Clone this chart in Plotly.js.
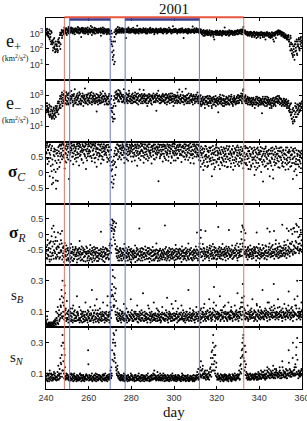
<!DOCTYPE html>
<html><head><meta charset="utf-8">
<script src="https://cdn.plot.ly/plotly-3.0.1.min.js"></script>
<style>html,body{margin:0;padding:0;background:#fff}#chart{width:307px;height:421px}</style>
</head><body><div id="chart"></div>
<script>
// Sampling: day-of-year 2001, days 240..359.75.
// Set A at 0, 6, 12, 18 h of each day; set B at 3, 9, 15, 21 h (4 samples/day each).
const startDay = 240, stepDay = 0.25;

const ePlus = [
1500,900,2000,700, 1200,600,1800,400, 900,300,1400,250, 200,80,400,120, 150,60,300,90,
200,100,60,400, 300,150,800,100, 800,1200,500,1500, 1300,900,1700,2000, 1600,1100,2200,800,
1800,1300,2100,1000, 1500,2000,1200,2400, 1700,1100,2200,1400, 1300,1900,900,1600, 2100,1500,1200,1800,
1400,2300,1000,1700, 1900,1300,600,2000, 1500,1100,2200,1300, 1800,1400,1000,2100, 1200,1700,2400,900,
1600,1300,1900,1100, 3000,1500,800,1700, 1400,1900,1200,2300, 1700,1000,1500,2000, 1300,1800,1100,1600,
1900,1400,2200,700, 1500,1200,1800,1000, 1700,2100,1300,1500, 1200,1600,900,1900, 1400,1000,1800,1300,
900,400,1500,200, 60,20,300,40, 1200,15,1700,900, 2000,1400,1600,1100, 1800,1300,2300,1500,
1500,1900,1100,1700, 2100,1400,1200,1800, 1600,1300,500,1900, 1700,1200,2000,1400, 1300,1800,1100,1600,
2000,1500,1300,1700, 1400,1100,1900,1200, 1800,1300,1600,3100, 1200,1700,1000,1500, 1600,2000,1300,1800,
1400,1100,1700,1300, 1900,1500,1200,2100, 1300,1600,1000,1800, 1700,1400,2000,1200, 1500,1100,1800,1400,
2000,1300,1600,900, 1400,1800,1200,1700, 1600,1000,1900,1300, 1200,1700,1500,2200, 1800,1300,1100,1600,
1500,2000,1300,1700, 1300,1600,1000,1900, 1700,1200,1500,1400, 1400,1900,1100,1600, 1600,1300,2900,1200,
1900,1500,1300,1700, 1300,1700,1000,1500, 1600,1200,1800,1400, 1400,2000,1200,1700, 1800,1500,500,1300,
1200,1600,1900,1400, 1700,1300,1000,1600, 1500,1900,1300,1100, 1400,1200,1700,2800, 1800,1500,1100,1600,
1300,1700,2200,1200, 1900,1500,1400,1800, 2000,1300,1600,1100, 1200,900,1500,700, 1000,1400,800,1100,
1300,900,1600,1000, 800,1200,1000,1500, 1100,700,1300,900, 1400,1000,600,1200, 900,1300,1100,800,
1200,1500,900,1000, 1000,800,1300,1400, 1300,1100,700,1200, 900,1400,1000,2400, 1100,800,1200,900,
1400,1000,1300,700, 800,1200,1000,1500, 1200,900,1400,1100, 1000,1300,800,1200, 1300,1100,1500,900,
900,1400,1200,1600, 1500,1000,1800,1200, 1700,1200,2600,1400, 1300,1600,1000,1200, 1100,800,1300,900,
1000,1200,700,1100, 900,1200,600,1000, 1100,800,1300,700, 700,1000,900,1200, 1000,600,1100,800,
800,1100,500,900, 1200,900,700,1000, 900,600,1100,800, 700,1000,800,1200, 1000,800,600,900,
800,500,900,700, 600,900,400,1000, 900,700,1200,500, 1300,1000,800,1500, 1600,1200,900,1400,
1000,700,1300,900, 800,600,1000,700, 600,900,500,700, 500,700,400,600, 300,150,80,500,
100,50,200,30, 60,150,20,300, 200,80,400,40, 300,150,500,100, 400,200,600,250
];
const ePlusB = [
1100,1700,800,1300, 700,1000,500,1500, 600,200,1100,350, 300,120,250,500, 100,200,70,180,
150,300,80,250, 500,250,1100,200, 1000,1700,700,1300, 1100,1500,2400,1000, 1400,1900,1000,1700,
1200,1600,2600,1400, 1800,1100,1500,2200, 1400,2000,1000,1600, 1700,1200,2100,1400, 1500,1900,1100,2600,
1800,1200,1600,2100, 1100,1700,1400,2300, 1900,1300,1600,1000, 1300,2200,1600,1200, 1900,1400,1100,1600,
1400,2100,1200,1700, 1300,1800,2500,1100, 1700,1300,1000,1600, 2100,1500,1800,1200, 1500,1100,2000,1400,
1300,1700,1100,2100, 1800,1400,2400,1200, 1400,1000,1600,1900, 1800,1300,1100,1600, 1200,1900,1500,1000,
1300,600,300,1000, 150,30,80,10, 600,300,1400,1000, 1500,1200,2600,1700, 1300,1900,1100,1600,
1800,1300,2200,1400, 1600,1100,1900,1300, 1400,2000,1200,1700, 1300,1600,2400,1100, 1900,1400,1700,1200,
1200,1800,1500,2300, 1700,1300,1600,1000, 1400,1900,1100,1500, 1800,1300,2000,1400, 1300,1700,1100,1500,
1700,1300,2200,1500, 1200,1800,1400,1000, 1600,1200,1900,1400, 1300,1700,1100,2300, 1800,1400,1600,1200,
1300,1900,1500,1100, 1700,1300,2100,1500, 1200,1500,1300,1800, 1900,1400,1200,1600, 1300,1800,1500,1000,
1700,1200,1600,2000, 1500,1800,1300,1100, 1300,1600,2300,1400, 1800,1300,1500,1000, 1400,1700,1200,1900,
1600,1200,2000,1400, 1800,1400,1200,1600, 1300,1900,1500,1100, 1700,1300,1600,2200, 1400,1100,1700,1300,
1600,1900,1300,1100, 1300,1500,2000,1200, 1700,1200,1600,1400, 1200,1800,1300,1600, 1500,1100,2100,1300,
1600,1200,1400,1900, 1300,1700,1100,1500, 1500,1100,1800,1300, 900,1300,1100,1700, 1200,700,1000,1500,
1000,1300,800,1200, 1300,1000,1600,800, 900,1200,1400,1000, 1100,800,1300,400, 1200,900,1500,1100,
1000,1300,800,1200, 1300,1000,1500,900, 800,1200,1000,1500, 1200,900,1300,1000, 1400,1100,800,1200,
900,1300,1100,1600, 1200,900,1300,1000, 1400,1100,800,1200, 1000,1300,1500,900, 1200,1000,1400,1700,
1300,1100,1500,1000, 1400,1700,1200,900, 1500,1900,1300,1100, 1100,1400,900,1300, 1000,1200,700,1000,
800,1100,900,1300, 1100,700,1000,800, 900,1200,600,1000, 1100,800,500,900, 800,1100,700,1000,
1000,700,1200,800, 800,1100,600,900, 1100,800,1000,400, 900,1200,700,1000, 700,900,1100,600,
1000,700,600,1200, 800,1100,700,300, 1100,800,1000,1300, 1100,1400,1200,900, 1300,1000,1500,1100,
1200,900,700,1100, 900,1100,700,500, 800,600,700,400, 600,400,800,300, 400,200,700,250,
200,80,40,150, 100,40,200,70, 120,300,50,150, 200,400,120,80, 300,500,150,350
];

const eMinus = [
200,80,300,150, 120,60,250,40, 90,50,180,30, 70,40,130,60, 100,50,200,80,
150,80,300,120, 300,150,600,250, 800,400,1500,200, 500,1200,300,900, 700,300,1600,450,
400,1000,250,600, 1500,500,300,800, 600,1100,350,200, 900,450,2500,300, 350,800,500,1300,
700,250,1000,400, 1200,500,300,800, 450,900,200,600, 800,2800,400,300, 300,700,1100,500,
600,350,900,1400, 1000,400,250,700, 500,1300,600,300, 900,400,700,90, 350,1100,500,800,
700,300,1500,450, 1200,600,350,900, 400,800,250,600, 1000,500,300,700, 600,250,900,400,
300,150,600,100, 40,150,30,500, 900,30,1500,600, 1800,700,1200,400, 500,1000,2000,700,
1300,600,900,350, 800,400,2500,600, 350,900,500,1200, 700,300,1000,450, 1300,600,400,800,
500,1100,300,700, 900,400,600,1500, 350,800,1200,500, 600,250,900,400, 1100,500,300,700,
400,900,600,2200, 800,350,1000,500, 300,600,200,900, 700,1200,400,500, 500,300,800,1000,
900,600,350,700, 400,1100,500,100, 1300,700,400,900, 600,300,800,500, 350,900,600,1200,
800,450,1000,300, 500,1200,700,350, 1000,400,600,800, 300,700,1300,500, 600,900,400,200,
1100,500,800,350, 450,800,300,1000, 700,350,2400,600, 900,500,400,700, 350,1000,600,250,
800,400,2600,500, 600,1100,300,700, 400,700,900,500, 1200,500,350,800, 500,900,600,300,
800,400,1100,600, 1500,700,400,900, 600,300,1000,200, 500,250,800,350, 300,600,150,450,
700,400,250,900, 350,200,600,450, 800,300,500,150, 400,700,250,550, 250,500,900,350,
600,300,450,80, 400,800,300,550, 700,250,500,1000, 300,600,200,450, 550,350,800,250,
400,700,300,900, 250,500,600,350, 800,400,250,600, 350,900,500,300, 600,300,800,450,
450,1000,350,700, 900,500,1300,400, 1200,600,2500,800, 700,400,1000,500, 500,300,800,600,
350,700,450,250, 600,300,450,200, 350,700,250,500, 500,250,800,350, 300,600,200,450,
700,350,500,250, 400,70,600,300, 250,500,350,800, 600,300,200,450, 350,700,500,250,
500,250,300,150, 300,600,200,400, 450,250,700,350, 800,400,600,300, 500,900,350,650,
300,550,200,400, 450,250,600,300, 300,500,200,350, 250,400,150,300, 150,80,250,50,
60,30,120,15, 40,100,20,200, 80,150,40,250, 120,60,200,100, 200,100,300,150
];
const eMinusB = [
300,120,200,90, 80,150,50,200, 60,120,40,100, 90,50,160,30, 70,140,40,110,
200,100,400,60, 400,200,900,150, 600,1100,300,700, 1000,400,2000,600, 500,900,250,1200,
700,300,1300,500, 350,900,600,1900, 800,450,1000,250, 1200,600,300,700, 500,1000,250,600,
900,400,1600,300, 600,250,900,450, 1300,700,350,1000, 500,300,600,1100, 900,450,250,1300,
450,700,300,1100, 600,1600,350,900, 800,400,1000,500, 300,600,1200,450, 700,250,900,400,
500,1000,300,700, 350,800,1800,500, 900,600,1300,400, 450,800,250,600, 800,400,1200,300,
500,250,900,150, 80,20,200,60, 300,700,200,1100, 600,1300,900,2200, 1200,400,800,1600,
600,1100,400,800, 1100,500,700,300, 900,1400,600,400, 500,1100,800,2000, 400,900,600,300,
800,450,1300,600, 350,700,1000,400, 900,500,300,700, 1300,800,450,2400, 500,900,600,1200,
700,300,1000,450, 1200,600,400,900, 500,1000,700,300, 400,800,1100,600, 900,450,250,700,
600,1300,400,900, 800,350,600,1000, 450,900,2000,600, 1000,500,300,700, 800,450,1100,400,
500,900,350,700, 1100,600,250,900, 700,400,1200,500, 900,500,800,350, 1300,600,400,800,
600,300,1000,700, 900,500,1500,400, 450,800,600,300, 1100,600,400,1700, 700,350,900,500,
500,900,700,300, 1000,400,600,1300, 700,300,500,1000, 400,900,600,250, 1100,500,800,400,
600,1100,400,800, 500,300,900,600, 800,400,250,600, 400,700,300,500, 550,250,800,350,
450,800,300,600, 650,300,900,400, 350,600,200,700, 500,250,800,350, 600,400,200,500,
350,700,250,500, 600,300,1100,400, 400,600,300,200, 500,900,400,300, 250,600,350,700,
600,300,500,250, 450,800,350,1100, 300,550,200,450, 700,400,600,250, 400,700,300,1000,
650,300,800,500, 500,900,700,300, 900,2000,500,700, 450,800,300,600, 400,650,250,500,
500,250,600,350, 400,700,250,550, 600,300,450,150, 350,600,250,800, 500,300,700,250,
450,250,600,300, 500,350,800,250, 400,600,200,350, 300,500,800,250, 550,300,400,150,
350,600,200,450, 500,300,700,250, 300,550,200,400, 600,350,900,450, 400,700,250,550,
600,300,450,250, 350,600,200,450, 400,250,550,150, 300,200,450,100, 200,120,80,300,
30,80,20,150, 100,25,60,300, 40,180,100,60, 250,150,80,300, 120,250,180,400
];

const sigmaC = [
.81,.62,.93,.28, .72,.47,.86,-.12, .58,.21,.79,-.38, .42,-.17,.68,.09, .53,.74,.02,-.52,
.31,.63,-.27,.82, .69,.18,.91,.52, .87,.57,.43,.96, .71,.89,.48,.13, .78,.61,.33,.92,
.56,.84,.67,-.21, .91,.64,.38,.79, .73,.51,.88,.27, .62,.86,.44,.71, .77,.36,.92,.59,
.49,.76,.23,.83, .89,.58,.71,.41, .66,.87,.32,.74, .82,.53,.93,.12, .69,.39,.61,.84,
.91,.73,.52,.67, .54,.81,.37,.88, .72,.92,.59,.46, .86,.48,.76,.19, .63,.79,.42,.91,
.74,.56,.84,.29, .92,.66,.51,.78, .41,.81,.69,.62, .84,.57,.89,.34, .71,.44,.82,.58,
.48,.22,.73,-.31, .11,-.48,.39,-.22, .28,.71,-.08,.57, .79,.61,.91,.43, .67,.86,.49,.76,
.88,.42,.72,.79, .57,.83,.64,.31, .76,.49,.92,.61, .84,.67,.38,.81, .59,.9,.71,.52,
.82,.36,.86,.63, .51,.77,.58,.91, .89,.54,.79,.22, .69,.87,.46,.61, .62,.41,.93,.74,
.86,.68,.54,.32, .49,.91,.66,.79, .76,.59,.87,.39, .92,.47,.71,.62, .64,.82,.29,.86,
.79,.56,.91,.69, .42,.76,.61,.49, .84,.64,.81,-.28, .71,.89,.52,.59, .57,.82,.74,.36,
.91,.61,.84,.46, .69,.41,.79,.66, .61,.86,.51,.9, .81,.68,.31,.76, .48,.91,.64,.61,
.84,.56,.79,.39, .71,.81,.62,.89, .46,.74,.86,.56, .9,.59,.34,.81, .66,.84,.69,.51,
.79,.42,.91,.58, .56,.76,.64,.86, .89,.49,.81,.31, .69,.84,.61,.46, .59,.29,.92,.76,
.86,.64,.51,.79, .74,.9,.56,.41, .49,.71,.19,.84, .61,.28,.79,.08, .39,.76,.21,.56,
.84,.51,.34,.69, .22,.66,.81,.44, .71,.38,.59,-.12, .49,.86,.29,.64, .76,.18,.56,.89,
.36,.71,.44,.61, .79,.49,.12,.66, .59,.31,.74,.46, .41,.81,.54,.21, .69,.61,.34,.86,
.51,.19,.76,.59, .84,.46,.64,.29, .61,.74,.41,.09, .31,.66,.79,.49, .71,.44,.56,.88,
.54,.81,.21,.66, .74,.36,.59,.44, .39,.71,.14,.84, .64,.51,.79,.31, .81,.24,.54,.69,
.46,.69,.61,.11, .59,.19,.79,.41, .29,.71,.49,-.08, .74,.39,.09,.61, .49,.81,.31,.64,
.21,.59,.71,.44, .69,.34,.56,-.29, .41,.76,.19,.61, .84,.49,.66,.29, .12,.54,.74,.39,
.61,.31,.79,.49, .44,.71,-.19,.59, .76,.24,.51,.84, .29,.61,.39,.71, .54,.79,.16,.49,
.69,.41,.64,.21, .34,.74,.49,.61, .59,.09,.81,.44, .39,.66,.31,.69, .74,.49,.19,.56,
.21,.59,.71,-.21, .49,.31,.64,.79, .11,.44,-.09,.61, .59,.26,.69,.41, .36,.54,.14,.71
];
const sigmaCB = [
.66,.88,.44,.74, .83,.36,.63,.91, .47,.72,.04,.86, .26,-.33,.57,.78, .68,.38,-.26,.61,
.72,.12,.54,.41, .86,.62,.33,.77, .64,.91,.78,.52, .92,.58,.81,.37, .63,.86,.74,.49,
.79,.42,.92,.65, .58,.82,.71,.94, .87,.64,.52,.78, .91,.69,.83,.57, .48,.84,.66,.94,
.86,.61,.93,.54, .67,.82,.44,.76, .92,.71,.84,.61, .58,.86,.74,.47, .91,.77,.53,.68,
.62,.86,.69,.94, .83,.47,.92,.71, .56,.78,.88,.33, .93,.68,.81,.57, .76,.91,.64,.52,
.61,.89,.72,.54, .78,.43,.84,.69, .92,.58,.76,.87, .64,.81,.49,.73, .9,.67,.38,.83,
.72,.51,.06,.34, -.12,.24,-.36,.52, .62,.34,.81,.17, .56,.91,.74,.68, .88,.53,.79,.62,
.64,.81,.57,.92, .86,.71,.48,.78, .62,.88,.74,.43, .91,.56,.76,.69, .81,.63,.87,.77,
.68,.91,.74,.52, .86,.64,.39,.81, .71,.84,.63,.92, .57,.79,.88,.66, .83,.69,.54,.88,
.71,.92,.63,.82, .77,.58,.91,.44, .68,.84,.53,.73, .81,.67,.92,.56, .72,.51,.86,.74,
.67,.87,.44,.79, .91,.63,.82,.71, .58,.76,.92,.64, .83,.46,.74,.9, .68,.89,.61,.84,
.74,.52,.89,.79, .86,.64,.57,.92, .73,.38,.81,.69, .62,.88,.76,.53, .84,.71,.93,.39,
.69,.92,.63,.77, .58,.86,.47,.73, .82,.68,.91,.61, .74,.83,.56,.69, .87,.52,.79,.92,
.63,.84,.72,.51, .88,.66,.41,.79, .72,.62,.94,.57, .83,.56,.74,.91, .71,.85,.52,.66,
.69,.82,.91,.58, .64,.53,.86,.71, .79,.38,.64,.56, .74,.49,.63,.33, .68,.52,.86,.44,
.58,.76,.18,.49, .71,.54,.36,.79, .46,.82,.27,.63, .72,.41,.59,.11, .41,.68,.81,.33,
.81,.56,.66,.24, .43,.72,.61,.34, .83,.49,.24,.69, .63,.36,.76,.58, .44,.79,.52,.17,
.72,.43,.61,.84, .38,.69,.18,.57, .76,.51,.86,.66, .61,.41,.21,.74, .36,.82,.64,.27,
.72,.34,.61,.47, .56,.83,.29,.69, .77,.54,.61,.32, .42,.86,.27,.58, .61,.44,.79,.12,
.71,.34,.83,.54, .24,.76,.49,.66, .61,.43,.81,.19, .53,.66,.32,.77, .16,.58,.72,.44,
.66,.41,.83,.02, .51,.79,.26,.61, .68,.36,.54,.79, .22,.69,.44,.59, .71,.29,.61,-.12,
.36,.71,.22,.62, .81,.09,.57,.34, .42,.66,.31,.58, .79,.46,.61,.17, .36,.69,.52,.81,
.49,.81,.29,.56, .71,.19,.62,.43, .31,.72,.56,.26, .81,.49,.11,.63, .34,.68,.42,.81,
.56,.31,.44,.76, .69,.04,.52,.27, .36,.72,.27,.54, .41,.71,.19,.56, .66,.29,.61,.46
];

const sigmaR = [
-.62,-.41,-.79,-.18, -.52,-.71,-.29,-.88, -.58,-.22,-.81,.19, -.39,-.68,.28,-.51, -.31,-.61,-.09,-.79,
-.48,-.21,-.72,-.39, -.42,-.79,-.59,.02, -.19,-.52,.11,-.69, -.61,-.38,-.89,-.28, -.49,-.71,-.36,-.84,
-.66,-.44,-.81,-.54, -.51,-.89,-.61,-.31, -.74,-.56,-.41,-.86, -.59,-.79,-.49,-.71, -.46,-.64,-.91,-.53,
-.69,-.48,-.62,-.21, -.56,-.84,-.66,-.39, -.81,-.59,-.51,-.74, -.49,-.71,-.88,-.61, -.64,-.44,-.76,-.54,
-.61,-.84,-.49,-.34, -.76,-.54,-.66,-.89, -.51,-.69,-.41,-.59, -.79,-.61,-.56,-.71, -.44,-.74,-.86,-.62,
-.64,-.51,-.69,.09, -.56,-.81,-.59,-.41, -.71,-.49,-.89,-.66, -.59,-.76,-.46,-.54, -.51,-.66,-.79,-.36,
-.29,.31,-.59,.11, .48,.19,.36,.01, .41,-.19,.24,-.49, -.61,-.39,-.76,-.51, -.69,-.56,-.84,-.44,
-.51,-.79,-.61,-.69, -.66,-.46,-.74,-.31, -.54,-.86,-.59,-.71, -.74,-.49,-.66,-.41, -.59,-.81,-.51,-.89,
-.46,-.69,-.61,-.54, -.79,-.56,-.74,-.36, -.61,-.71,-.44,-.84, -.49,-.66,-.81,.19, -.69,-.46,-.59,-.76,
-.56,-.84,-.64,-.49, -.74,-.61,-.39,-.69, -.51,-.79,-.59,-.56, -.64,-.44,-.89,-.61, -.79,-.59,-.51,-.71,
-.41,-.69,-.66,-.84, -.61,-.54,-.74,-.29, -.76,-.51,-.59,-.79, -.54,-.84,-.46,-.64, -.71,-.59,-.81,-.49,
-.51,-.74,-.61,.29, -.64,-.41,-.84,-.56, -.79,-.61,-.69,-.44, -.56,-.74,-.49,-.66, -.69,-.46,-.79,-.59,
-.59,-.84,-.56,-.34, -.46,-.71,-.64,-.74, -.76,-.54,-.61,-.79, -.49,-.66,-.89,-.39, -.71,-.51,-.59,-.76,
-.61,-.79,-.44,-.56, -.54,-.71,-.74,-.29, -.81,-.49,-.61,-.64, -.44,-.76,-.56,-.84, -.66,-.59,-.79,-.51,
-.69,-.39,-.61,.06, -.51,-.84,-.64,-.56, -.29,-.59,-.11,-.74, -.49,-.71,-.31,-.61, -.64,-.46,-.79,.11,
-.56,-.74,-.41,-.59, -.69,-.51,-.84,-.36, -.46,-.64,-.61,-.79, -.59,-.31,-.74,-.49, -.76,-.54,-.44,-.66,
-.51,-.79,-.59,.24, -.64,-.41,-.71,-.56, -.79,-.61,-.49,-.31, -.56,-.69,-.64,-.44, -.61,-.84,-.39,-.71,
-.69,-.51,-.61,.14, -.46,-.74,-.54,-.66, -.59,-.36,-.79,-.51, -.74,-.61,-.44,-.69, -.49,-.66,-.29,-.84,
-.61,-.41,-.69,-.54, -.31,-.71,.09,-.49, .29,-.39,.21,-.61, -.19,-.64,.04,-.51, -.69,-.49,-.81,-.41,
-.54,-.74,-.61,-.36, -.64,-.51,-.79,-.46, -.59,-.76,-.41,-.54, -.49,-.71,-.84,.06, -.69,-.44,-.61,-.31,
-.56,-.79,-.49,-.64, -.74,-.61,-.34,-.69, -.44,-.66,-.76,-.54, -.59,-.39,-.81,.19, -.71,-.56,-.49,-.29,
-.51,-.74,-.64,-.39, -.61,-.34,-.69,-.56, -.79,-.49,-.46,-.19, -.54,-.71,-.59,-.41, -.66,-.29,-.74,-.51,
-.39,-.61,-.54,.31, -.69,-.44,-.59,-.24, -.49,-.66,-.34,-.76, -.61,-.19,-.51,.11, -.44,-.71,-.29,-.56,
-.31,-.54,.01,-.66, -.49,.21,-.39,-.61, -.21,.34,-.46,.09, -.41,-.09,.24,-.54, -.29,-.51,.06,-.19
];
const sigmaRB = [
-.54,-.76,-.34,-.66, -.69,-.44,-.81,-.26, -.46,-.71,-.06,-.62, -.59,-.24,-.79,.08, -.56,-.21,-.74,-.44,
-.66,-.39,.06,-.59, -.59,-.32,-.74,-.51, -.56,-.29,-.81,-.42, -.44,-.74,-.54,-.66, -.71,-.56,-.81,-.46,
-.51,-.76,-.61,-.86, -.69,-.44,-.79,-.56, -.61,-.84,-.49,-.66, -.79,-.53,-.66,-.41, -.71,-.59,-.81,-.49,
-.58,-.79,-.44,-.66, -.74,-.49,-.61,-.81, -.64,-.44,-.86,-.56, -.71,-.56,-.61,-.39, -.56,-.84,-.61,-.71,
-.71,-.56,-.79,-.61, -.64,-.81,-.44,-.59, -.76,-.56,-.84,-.49, -.66,-.44,-.74,-.86, -.59,-.69,-.51,-.79,
-.79,-.61,-.46,-.71, -.66,-.49,-.74,-.86, -.56,-.71,-.61,-.44, -.79,-.49,-.66,-.74, -.64,-.81,-.54,-.61,
-.44,-.16,.21,-.36, .29,.44,-.09,.16, .11,-.31,-.46,.36, -.71,-.51,-.61,-.84, -.56,-.74,-.46,-.66,
-.71,-.56,-.84,-.46, -.59,-.79,-.51,-.66, -.69,-.44,-.76,-.61, -.54,-.84,-.61,-.71, -.76,-.49,-.66,-.56,
-.81,-.56,-.74,-.64, -.51,-.69,-.61,-.89, -.74,-.54,-.66,-.49, -.61,-.79,-.56,-.71, -.54,-.84,-.66,-.44,
-.69,-.46,-.74,-.61, -.59,-.81,-.66,-.51, -.71,-.59,-.44,-.79, -.54,-.76,-.66,-.49, -.61,-.71,-.84,-.56,
-.56,-.81,-.51,-.66, -.79,-.64,-.49,-.71, -.61,-.86,-.66,-.54, -.74,-.51,-.69,-.79, -.54,-.74,-.61,-.66,
-.69,-.56,-.81,-.46, -.76,-.59,-.66,-.71, -.51,-.74,-.56,-.84, -.66,-.49,-.79,-.61, -.56,-.74,-.64,-.51,
-.74,-.51,-.69,-.81, -.64,-.56,-.79,-.49, -.59,-.71,-.46,-.66, -.76,-.54,-.61,-.71, -.56,-.81,-.69,-.49,
-.71,-.59,-.66,-.84, -.61,-.49,-.79,-.56, -.69,-.64,-.51,-.76, -.59,-.81,-.66,-.54, -.74,-.49,-.61,-.71,
-.56,-.76,-.49,-.66, -.79,-.59,-.71,-.41, -.66,-.46,.14,-.56, -.71,-.56,-.84,-.44, -.54,-.71,-.59,-.66,
-.66,-.49,-.71,-.56, -.59,-.76,-.44,-.64, -.71,-.54,-.39,-.69, -.51,-.66,-.79,-.41, -.59,-.69,-.56,-.81,
-.66,-.54,-.71,-.46, -.56,-.76,-.51,-.66, -.44,-.69,-.59,-.81, -.66,-.49,-.56,-.74, -.51,-.66,-.59,-.46,
-.56,-.79,-.41,-.64, -.69,-.54,-.71,-.49, -.66,-.79,-.56,-.61, -.51,-.69,-.59,-.36, -.69,-.54,-.76,-.61,
-.51,-.74,-.59,-.66, -.49,-.56,-.16,-.69, -.29,.24,-.49,.14, -.56,-.41,-.61,-.74, -.56,-.64,-.44,-.69,
-.66,-.49,-.71,-.59, -.49,-.71,-.56,-.64, -.69,-.51,-.61,-.44, -.61,-.56,-.41,-.71, -.59,-.76,-.51,-.66,
-.66,-.44,-.71,-.59, -.51,-.69,-.61,-.46, -.61,-.79,-.56,-.36, -.69,-.51,-.61,-.71, -.59,-.41,-.66,.09,
-.61,-.44,-.71,-.56, -.71,-.49,-.59,.11, -.59,-.66,-.31,-.71, -.64,-.44,-.49,-.76, -.56,-.61,-.39,-.69,
-.56,-.71,-.44,-.64, -.51,-.61,-.36,-.71, -.61,-.44,-.54,.19, -.51,-.66,-.39,-.56, -.61,-.29,-.49,.16,
-.51,-.24,-.61,.19, -.36,-.56,.09,-.44, -.59,-.26,.29,-.46, -.51,-.31,-.61,-.06, -.46,.14,-.36,-.56
];

const sB = [
.04,.02,.07,.01, .02,.03,.01,.02, .01,.02,.03,.01, .02,.03,.01,.04, .03,.05,.02,.1,
.06,.03,.13,.02, .08,.04,.18,.06, .13,.24,.07,.3, .1,.19,.05,.27, .08,.12,.04,.17,
.06,.1,.03,.08, .07,.04,.12,.09, .05,.09,.03,.14, .08,.04,.11,.06, .04,.07,.2,.1,
.09,.05,.06,.03, .06,.11,.04,.08, .03,.07,.1,.05, .08,.04,.16,.06, .05,.09,.03,.07,
.1,.06,.04,.13, .04,.08,.24,.06, .07,.03,.09,.05, .05,.11,.06,.18, .09,.04,.07,.03,
.06,.12,.05,.08, .04,.07,.1,.16, .08,.05,.03,.09, .06,.1,.04,.14, .05,.08,.07,.03,
.1,.16,.06,.24, .28,.37,.2,.13, .18,.32,.1,.25, .08,.05,.12,.07, .04,.09,.06,.11,
.07,.03,.1,.05, .09,.06,.15,.04, .05,.08,.07,.12, .03,.06,.1,.04, .08,.05,.07,.18,
.06,.11,.04,.08, .04,.07,.09,.05, .1,.05,.06,.14, .07,.03,.08,.05, .05,.09,.04,.11,
.08,.06,.22,.04, .04,.1,.07,.06, .09,.05,.03,.08, .06,.12,.05,.07, .03,.07,.1,.04,
.08,.05,.16,.06, .05,.09,.04,.07, .07,.04,.11,.08, .1,.06,.05,.03, .04,.08,.13,.06,
.06,.05,.09,.04, .08,.11,.07,.19, .05,.03,.06,.1, .07,.09,.04,.08, .04,.06,.12,.05,
.09,.05,.07,.17, .06,.1,.03,.08, .04,.07,.09,.05, .08,.05,.14,.06, .05,.11,.04,.07,
.07,.03,.08,.1, .1,.06,.05,.24, .04,.08,.12,.06, .06,.04,.07,.09, .08,.1,.05,.03,
.05,.07,.13,.08, .07,.04,.1,.06, .09,.05,.03,.12, .06,.1,.08,.04, .08,.15,.05,.07,
.04,.09,.06,.11, .07,.05,.18,.08, .1,.06,.04,.09, .05,.12,.08,.26, .08,.04,.07,.14,
.06,.1,.05,.08, .09,.07,.2,.04, .05,.08,.11,.06, .07,.13,.04,.09, .1,.06,.08,.05,
.04,.09,.16,.07, .08,.05,.06,.11, .06,.1,.04,.08, .09,.07,.14,.05, .05,.11,.08,.22,
.07,.04,.1,.06, .1,.08,.16,.05, .13,.28,.08,.2, .07,.11,.05,.09, .09,.06,.14,.04,
.05,.08,.07,.11, .08,.12,.06,.18, .06,.09,.04,.1, .1,.05,.08,.15, .04,.07,.11,.06,
.08,.13,.05,.09, .06,.1,.24,.07, .09,.05,.08,.12, .07,.11,.06,.04, .1,.08,.16,.05,
.05,.09,.07,.13, .08,.06,.11,.28, .07,.12,.05,.09, .1,.06,.08,.18, .05,.09,.13,.07,
.08,.11,.06,.04, .06,.1,.08,.15, .09,.05,.12,.07, .07,.1,.06,.23, .11,.08,.05,.09,
.06,.13,.08,.04, .1,.07,.18,.09, .08,.14,.05,.3, .07,.1,.06,.12, .09,.05,.08,.16
];
const sBB = [
.03,.015,.05,.02, .015,.025,.01,.03, .02,.01,.015,.025, .015,.02,.035,.01, .025,.04,.015,.06,
.045,.09,.025,.07, .11,.05,.08,.14, .09,.2,.06,.16, .07,.14,.1,.22, .11,.06,.09,.05,
.085,.05,.11,.065, .055,.1,.075,.04, .065,.12,.045,.085, .1,.055,.075,.04, .06,.095,.045,.08,
.075,.045,.13,.055, .045,.085,.065,.1, .09,.055,.035,.075, .065,.1,.045,.08, .08,.045,.11,.06,
.055,.085,.075,.045, .09,.055,.065,.11, .045,.075,.095,.14, .065,.035,.085,.055, .075,.11,.05,.085,
.085,.045,.095,.065, .055,.085,.045,.075, .07,.095,.06,.045, .085,.055,.075,.2, .065,.095,.045,.08,
.085,.13,.2,.11, .21,.33,.14,.26, .14,.22,.08,.17, .06,.095,.04,.085, .085,.055,.075,.045,
.055,.085,.065,.1, .075,.045,.055,.085, .09,.055,.045,.075, .065,.095,.055,.045, .045,.075,.095,.065,
.085,.055,.075,.045, .065,.1,.055,.085, .055,.075,.085,.035, .085,.055,.065,.1, .075,.045,.06,.085,
.055,.095,.045,.075, .075,.055,.085,.045, .065,.085,.055,.14, .055,.075,.095,.045, .085,.055,.065,.075,
.065,.085,.045,.075, .085,.055,.075,.12, .055,.085,.065,.045, .075,.045,.085,.065, .065,.095,.055,.085,
.085,.045,.075,.055, .055,.075,.095,.045, .065,.085,.055,.075, .085,.055,.065,.15, .065,.085,.045,.075,
.045,.075,.055,.085, .085,.055,.065,.12, .065,.045,.085,.055, .055,.095,.065,.075, .085,.055,.095,.045,
.055,.085,.065,.045, .075,.055,.085,.065, .065,.095,.045,.075, .085,.065,.055,.11, .075,.045,.085,.065,
.065,.095,.055,.085, .085,.055,.065,.045, .075,.11,.065,.055, .085,.065,.095,.125, .065,.085,.055,.1,
.085,.065,.105,.055, .065,.095,.075,.12, .075,.055,.085,.065, .095,.075,.16,.11, .065,.1,.055,.085,
.085,.065,.095,.055, .065,.085,.075,.11, .075,.095,.065,.055, .095,.065,.085,.14, .065,.085,.055,.095,
.085,.065,.095,.055, .065,.1,.075,.13, .095,.055,.085,.065, .065,.085,.075,.1, .085,.065,.095,.055,
.075,.095,.065,.12, .085,.13,.075,.19, .1,.16,.085,.12, .075,.055,.095,.065, .065,.085,.055,.1,
.085,.065,.095,.055, .065,.1,.075,.085, .085,.065,.11,.055, .065,.095,.075,.14, .085,.065,.1,.055,
.075,.095,.065,.11, .085,.065,.095,.055, .065,.105,.075,.085, .095,.065,.085,.16, .075,.095,.065,.12,
.085,.11,.065,.095, .075,.095,.065,.14, .095,.065,.085,.075, .075,.095,.125,.065, .085,.065,.1,.075,
.075,.095,.065,.12, .095,.075,.085,.065, .065,.095,.075,.11, .085,.065,.14,.095, .075,.095,.065,.12,
.095,.075,.11,.065, .075,.095,.085,.14, .085,.12,.075,.2, .095,.075,.085,.065, .075,.095,.065,.11
];

const sN = [
.08,.06,.1,.05, .07,.09,.05,.12, .06,.08,.1,.07, .09,.06,.07,.11, .07,.1,.06,.08,
.08,.06,.09,.15, .06,.09,.07,.2, .1,.28,.08,.35, .12,.3,.07,.22, .08,.06,.1,.07,
.07,.09,.06,.08, .06,.08,.07,.1, .09,.06,.08,.05, .07,.1,.06,.08, .08,.05,.09,.07,
.06,.08,.07,.06, .1,.07,.05,.09, .07,.06,.09,.08, .05,.08,.07,.06, .09,.06,.08,.25,
.07,.09,.06,.08, .06,.07,.1,.05, .08,.06,.07,.09, .07,.1,.05,.08, .06,.08,.09,.07,
.09,.07,.06,.08, .08,.05,.09,.07, .06,.09,.07,.1, .07,.06,.08,.05, .09,.08,.06,.07,
.08,.12,.07,.1, .25,.4,.32,.18, .35,.2,.28,.14, .12,.09,.15,.08, .07,.1,.06,.09,
.08,.06,.09,.07, .06,.08,.1,.05, .09,.07,.06,.08, .07,.05,.09,.06, .08,.07,.06,.1,
.06,.09,.08,.07, .07,.06,.05,.09, .09,.08,.07,.06, .06,.07,.1,.08, .08,.05,.07,.09,
.07,.09,.06,.08, .05,.07,.08,.06, .09,.06,.07,.1, .07,.08,.05,.06, .08,.06,.09,.07,
.06,.1,.07,.12, .09,.07,.08,.06, .07,.11,.06,.09, .08,.06,.1,.07, .06,.09,.07,.08,
.1,.07,.05,.09, .07,.08,.06,.07, .09,.06,.08,.05, .06,.07,.09,.08, .08,.1,.06,.07,
.07,.06,.08,.09, .05,.08,.07,.06, .09,.07,.06,.08, .07,.05,.08,.1, .06,.09,.07,.06,
.08,.06,.05,.07, .07,.08,.09,.06, .05,.07,.06,.08, .08,.06,.07,.05, .06,.09,.05,.07,
.07,.06,.08,.09, .09,.07,.06,.08, .1,.14,.08,.12, .12,.09,.15,.07, .08,.11,.07,.1,
.06,.09,.12,.08, .07,.1,.06,.09, .09,.2,.08,.16, .25,.3,.12,.22, .18,.1,.28,.14,
.08,.06,.1,.07, .06,.08,.07,.05, .07,.09,.06,.08, .09,.05,.08,.06, .06,.07,.09,.08,
.08,.06,.05,.07, .07,.09,.08,.06, .05,.07,.06,.09, .08,.06,.1,.07, .06,.09,.07,.08,
.09,.07,.12,.06, .15,.2,.1,.25, .3,.22,.35,.18, .12,.28,.09,.16, .07,.1,.06,.09,
.08,.06,.07,.1, .06,.09,.08,.07, .09,.07,.06,.08, .07,.1,.08,.06, .08,.06,.11,.07,
.1,.08,.07,.12, .07,.11,.09,.08, .09,.07,.12,.06, .08,.1,.07,.14, .11,.08,.13,.09,
.07,.12,.09,.1, .1,.08,.15,.07, .09,.13,.07,.11, .12,.09,.1,.08, .08,.11,.14,.07,
.1,.07,.09,.18, .09,.12,.08,.1, .11,.08,.13,.07, .07,.1,.09,.25, .1,.13,.08,.11,
.08,.11,.1,.3, .12,.09,.14,.1, .09,.22,.11,.33, .1,.07,.12,.09, .08,.11,.09,.13
];
const sNB = [
.065,.085,.055,.095, .085,.065,.1,.075, .075,.095,.055,.085, .055,.075,.095,.065, .085,.065,.075,.055,
.075,.11,.065,.085, .1,.13,.08,.17, .16,.22,.12,.3, .18,.1,.26,.14, .065,.085,.075,.095,
.085,.065,.075,.055, .075,.095,.055,.065, .065,.075,.095,.085, .055,.085,.075,.065, .075,.065,.055,.085,
.085,.055,.075,.095, .065,.085,.075,.055, .085,.075,.055,.065, .075,.065,.085,.095, .065,.085,.075,.16,
.055,.075,.085,.065, .085,.065,.055,.075, .075,.085,.065,.055, .085,.065,.075,.095, .075,.055,.065,.085,
.065,.085,.075,.055, .075,.065,.085,.095, .085,.055,.065,.075, .055,.085,.075,.065, .075,.065,.095,.085,
.095,.075,.14,.085, .19,.3,.36,.23, .22,.3,.17,.38, .1,.13,.085,.11, .085,.065,.075,.055,
.065,.085,.075,.055, .085,.065,.055,.075, .075,.055,.085,.065, .065,.085,.075,.055, .055,.075,.065,.085,
.085,.065,.055,.075, .065,.085,.075,.055, .075,.055,.065,.085, .085,.065,.055,.075, .065,.075,.085,.055,
.055,.075,.085,.065, .085,.065,.075,.055, .065,.085,.055,.075, .075,.055,.065,.085, .055,.075,.085,.065,
.085,.065,.095,.075, .065,.085,.055,.075, .085,.065,.075,.055, .065,.075,.085,.055, .075,.065,.055,.085,
.065,.085,.075,.055, .085,.055,.065,.075, .055,.075,.085,.065, .075,.065,.055,.085, .065,.075,.085,.055,
.085,.055,.075,.065, .065,.075,.055,.085, .075,.085,.065,.055, .055,.065,.075,.085, .075,.055,.065,.085,
.065,.085,.075,.055, .085,.065,.055,.075, .075,.055,.085,.065, .065,.075,.085,.055, .075,.065,.055,.085,
.085,.065,.075,.11, .075,.13,.095,.065, .12,.09,.18,.075, .085,.13,.1,.095, .095,.075,.12,.085,
.085,.075,.095,.065, .075,.11,.085,.13, .14,.11,.24,.12, .2,.35,.16,.27, .12,.22,.085,.17,
.075,.095,.065,.085, .085,.065,.075,.095, .065,.085,.075,.055, .075,.065,.085,.095, .085,.075,.065,.055,
.065,.085,.075,.095, .085,.065,.055,.075, .075,.095,.085,.065, .065,.075,.085,.055, .085,.065,.075,.095,
.075,.085,.095,.065, .11,.16,.13,.21, .26,.33,.2,.28, .18,.14,.24,.11, .085,.075,.095,.065,
.075,.095,.065,.085, .085,.065,.075,.095, .075,.085,.065,.095, .085,.075,.095,.065, .075,.095,.085,.065,
.085,.095,.075,.065, .095,.085,.075,.11, .075,.095,.085,.065, .095,.075,.12,.085, .085,.105,.075,.095,
.095,.085,.11,.075, .085,.12,.095,.075, .105,.085,.095,.13, .085,.105,.075,.095, .095,.085,.12,.105,
.085,.105,.075,.14, .095,.085,.11,.075, .105,.095,.085,.12, .095,.12,.085,.17, .105,.085,.12,.095,
.11,.095,.2,.085, .1,.125,.085,.16, .14,.27,.095,.19, .095,.115,.085,.105, .1,.085,.12,.095
];

// interval boundaries (day of year)
const redLines = [248.6, 332.7];
const blueLines = [251.1, 270.1, 277.1, 311.9];
const blueBars = [[251.1, 270.1], [277.1, 311.9]];

const xTicks = [240, 260, 280, 300, 320, 340, 360];
const logTicks = [10, 100, 1000];
const logTickText = ['10<sup>1</sup>', '10<sup>2</sup>', '10<sup>3</sup>'];
const sigmaTicks = [-0.5, 0, 0.5];
const sigmaTickText = ['-0.5', '0', '0.5'];
const sTicks = [0.1, 0.3];
const sTickText = ['0.1', '0.3'];

const panelLabels = [
  {text: 'e<sub>+</sub>', size: 18, unit: true},
  {text: 'e<sub>−</sub>', size: 18, unit: true},
  {text: '<b>σ</b><sub><i>C</i></sub>', size: 17},
  {text: '<b>σ</b><sub><i>R</i></sub>', size: 17},
  {text: 's<sub><i>B</i></sub>', size: 15},
  {text: 's<sub><i>N</i></sub>', size: 15}
];

const seriesA = [ePlus, eMinus, sigmaC, sigmaR, sB, sN];
const seriesB = [ePlusB, eMinusB, sigmaCB, sigmaRB, sBB, sNB];
const timesA = a => a.map((_, i) => startDay + i * stepDay);
const timesB = a => a.map((_, i) => startDay + stepDay / 2 + i * stepDay);

const yCfg = [
  {type: 'log', range: [0, 4], tickvals: logTicks, ticktext: logTickText},
  {type: 'log', range: [0, 4], tickvals: logTicks, ticktext: logTickText},
  {range: [-1, 1], tickvals: sigmaTicks, ticktext: sigmaTickText},
  {range: [-1, 1], tickvals: sigmaTicks, ticktext: sigmaTickText},
  {range: [0, 0.4], tickvals: sTicks, ticktext: sTickText},
  {range: [0, 0.4], tickvals: sTicks, ticktext: sTickText}
];

const sans = 'Liberation Sans, Arial, sans-serif';
const serif = 'Liberation Serif, Times New Roman, serif';
const common = {
  showline: true, linecolor: '#000', linewidth: 1, mirror: 'ticks',
  ticks: 'inside', ticklen: 3, tickcolor: '#000', tickwidth: 1,
  showgrid: false, zeroline: false,
  tickfont: {family: sans, size: 9, color: '#333'}
};

const traces = seriesA.map((a, k) => {
  const b = seriesB[k];
  return {
    type: 'scatter', mode: 'markers',
    x: timesA(a).concat(timesB(b)), y: a.concat(b),
    xaxis: k ? 'x' + (k + 1) : 'x', yaxis: k ? 'y' + (k + 1) : 'y',
    marker: {size: 2, color: '#000'}, hoverinfo: 'skip', showlegend: false
  };
});

const layout = {
  width: 307, height: 421,
  margin: {l: 46, r: 5, t: 18, b: 32},
  paper_bgcolor: '#fff', plot_bgcolor: '#fff', showlegend: false,
  title: {text: '2001', font: {family: serif, size: 15, color: '#111'},
          x: 0.5, xref: 'paper', xanchor: 'center', y: 1 - 8.5 / 421, yref: 'container', yanchor: 'middle'},
  shapes: [], annotations: []
};

for (let k = 0; k < 6; k++) {
  const n = k ? String(k + 1) : '';
  layout['xaxis' + n] = Object.assign({}, common, {
    range: [240, 360], tickvals: xTicks, ticktext: xTicks.map(String),
    anchor: 'y' + n, showticklabels: k === 5, ticklabeloverflow: 'allow'
  });
  layout['yaxis' + n] = Object.assign({}, common, yCfg[k], {
    domain: [(5 - k) / 6, (6 - k) / 6], anchor: 'x' + n
  });
  const lab = panelLabels[k];
  layout.annotations.push({
    text: lab.text, xref: 'paper', x: 0, xshift: lab.unit ? -33 : -29,
    yref: 'y' + n + ' domain', y: lab.unit ? 0.6 : 0.5, yanchor: 'middle', xanchor: 'center',
    showarrow: false, font: {family: serif, size: lab.size, color: '#111'}
  });
  if (lab.unit) {
    layout.annotations.push({
      text: '(km<sup>2</sup>/s<sup>2</sup>)', xref: 'paper', x: 0, xshift: -31,
      yref: 'y' + n + ' domain', y: 0.35, yanchor: 'middle', xanchor: 'center',
      showarrow: false, font: {family: serif, size: 8, color: '#111'}
    });
  }
}

layout.annotations.push({
  text: 'day', xref: 'paper', x: 0.5, yref: 'paper', y: -0.061, yanchor: 'middle', xanchor: 'center',
  showarrow: false, font: {family: serif, size: 15, color: '#111'}
});

redLines.forEach(d => layout.shapes.push({
  type: 'line', xref: 'x', yref: 'paper', x0: d, x1: d, y0: 0, y1: 1,
  line: {color: '#e07565', width: 1}
}));
blueLines.forEach(d => layout.shapes.push({
  type: 'line', xref: 'x', yref: 'paper', x0: d, x1: d, y0: 0, y1: 1,
  line: {color: '#6878c0', width: 1}
}));
layout.shapes.push({
  type: 'line', xref: 'x', yref: 'paper', x0: redLines[0], x1: redLines[1], y0: 1.002, y1: 1.002,
  line: {color: '#e8553f', width: 2}
});
blueBars.forEach(b => layout.shapes.push({
  type: 'line', xref: 'x', yref: 'paper', x0: b[0], x1: b[1], y0: 0.996, y1: 0.996,
  line: {color: '#3d3f8e', width: 2.5}
}));

Plotly.newPlot('chart', traces, layout, {displayModeBar: false, staticPlot: true});
</script>
</body></html>
